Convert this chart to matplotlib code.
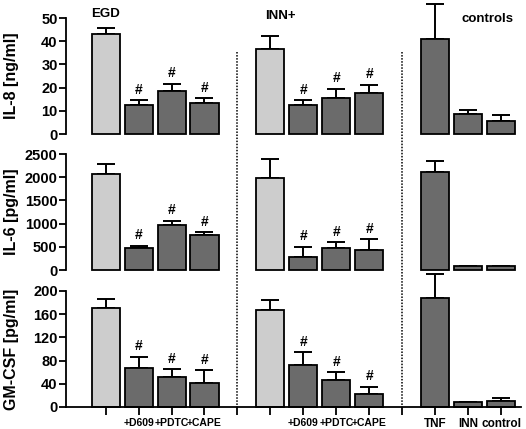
import numpy as np
import matplotlib as mpl
import matplotlib.pyplot as plt
import matplotlib.transforms as mtrans
mpl.use('Agg')

plt.rcParams['font.family'] = ['Liberation Sans', 'DejaVu Sans']
plt.rcParams['font.weight'] = 'bold'

# bar order: EGD, +D609, +PDTC, +CAPE | INN+, +D609, +PDTC, +CAPE | TNF, INN, control
pos = [0, 1, 2, 3, 5, 6, 7, 8, 10, 11, 12]
group_names = ['EGD', 'INN+', 'controls']
xlabels = ['+D609', '+PDTC', '+CAPE', '+D609', '+PDTC', '+CAPE', 'TNF', 'INN', 'control']
xlabel_pos = [1, 2, 3, 6, 7, 8, 10, 11, 12]

il8 = [43, 12.5, 18.7, 13.5, 36.8, 12.5, 15.5, 17.7, 41, 8.5, 5.7]
il8_err = [2.5, 2, 3, 2, 5.5, 2, 4, 3.5, 15, 2, 2.3]
il6 = [2070, 470, 960, 755, 1975, 280, 475, 430, 2110, 85, 80]
il6_err = [210, 50, 105, 55, 420, 220, 120, 230, 245, 10, 10]
gmcsf = [171, 67, 51, 41, 168, 72, 47, 22, 188, 8, 10]
gmcsf_err = [15, 20, 14, 22, 16, 22, 13, 13, 41, 1, 5]

sig = [1, 2, 3, 5, 6, 7]  # indices marked with #
light = [0, 4]

panels = [
    (il8, il8_err, 'IL-8 [ng/ml]', [0, 10, 20, 30, 40, 50], 50),
    (il6, il6_err, 'IL-6 [pg/ml]', [0, 500, 1000, 1500, 2000, 2500], 2500),
    (gmcsf, gmcsf_err, 'GM-CSF [pg/ml]', [0, 40, 80, 120, 160, 200], 200),
]
bottoms = [0.6876, 0.3706, 0.0513]

fig = plt.figure(figsize=(5.26, 4.29), dpi=100)
axes = []
for k, (vals, errs, lab, ticks, top) in enumerate(panels):
    ax = fig.add_axes([0.1255, bottoms[k], 0.865, 0.2704])
    colors = ['#cdcdcd' if i in light else '#6b6b6b' for i in range(len(vals))]
    ax.bar(pos, vals, width=0.85, color=colors, edgecolor='black', linewidth=1.3, clip_on=False, zorder=2)
    ax.errorbar(pos, vals, yerr=[np.zeros(len(errs)), errs], fmt='none', ecolor='black',
                elinewidth=1.4, capsize=6.5, capthick=1.4, clip_on=False, zorder=1)
    for i in sig:
        ax.annotate('#', (pos[i], vals[i] + errs[i]), xytext=(0, 2.5), textcoords='offset points',
                    ha='center', va='bottom', fontsize=10, fontweight='bold')
    ax.set_xlim(-1.2, 12.6)
    ax.set_ylim(0, top)
    ax.set_yticks(ticks)
    ax.tick_params(axis='y', direction='out', length=5, width=1.3, labelsize=10.5, pad=1)
    for t in ax.get_yticklabels():
        t.set_fontweight('bold')
    ax.set_ylabel(lab, fontsize=11.5, fontweight='bold')
    ax.spines['top'].set_visible(False)
    ax.spines['right'].set_visible(False)
    ax.spines['left'].set_linewidth(1.3)
    if k < 2:
        ax.spines['bottom'].set_visible(False)
        ax.set_xticks([])
    else:
        ax.spines['bottom'].set_linewidth(1.3)
        ax.set_xticks(range(13))
        ax.set_xticklabels([''] * 13)
        ax.tick_params(axis='x', direction='out', length=6, width=1.3)
        for p, t in zip(xlabel_pos, xlabels):
            fs = 8.5 if p >= 10 else 7.5
            ax.annotate(t, (p, 0), xytext=(0, -8), textcoords='offset points', ha='center',
                        va='top', fontsize=fs, fontweight='bold')
    ax.yaxis.set_label_coords(-0.104, 0.5)
    axes.append(ax)

# group titles
for name, x, y in zip(group_names, [105, 280, 488], [14, 16, 19]):
    fig.text(x / 526, 1 - y / 429, name, ha='center', va='center', fontsize=9.5, fontweight='bold')

# dotted separators across all panels
trans = mtrans.blended_transform_factory(axes[2].transData, fig.transFigure)
for x in [4, 9]:
    fig.add_artist(plt.Line2D([x, x], [1 - 52 / 429, 1 - 407 / 429], transform=trans,
                              color='black', linestyle=(0, (1, 1)), linewidth=1.1))

fig.savefig('out.png', dpi=100)
